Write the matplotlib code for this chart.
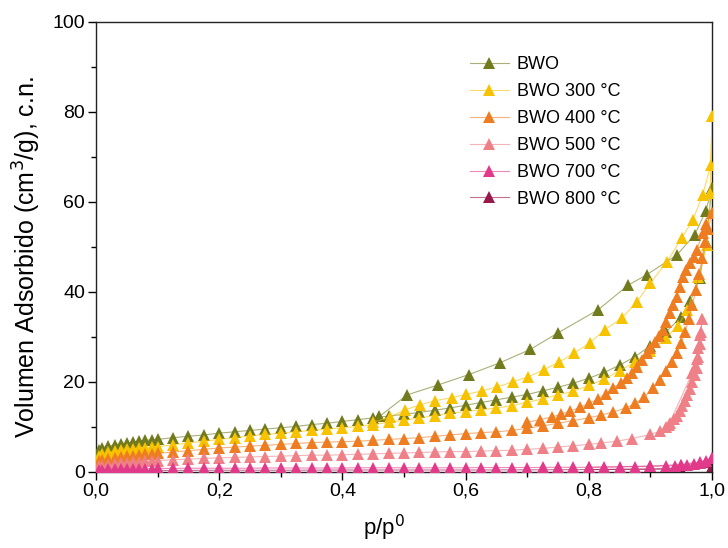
import numpy as np
import matplotlib.pyplot as plt
from matplotlib.ticker import MultipleLocator, FuncFormatter

plt.rcParams.update({'font.family': ['Liberation Sans', 'DejaVu Sans'], 'font.size': 13})


# N2 isotherms, adsorption (ads) and desorption (des) branches per sample
# BWO
bwo_p_ads = [0.005, 0.01, 0.02, 0.03, 0.04, 0.05, 0.06, 0.07, 0.08, 0.09, 0.10, 0.125, 0.15, 0.175,
             0.20, 0.225, 0.25, 0.275, 0.30, 0.325, 0.35, 0.375, 0.40, 0.425, 0.45, 0.475, 0.50,
             0.525, 0.55, 0.575, 0.60, 0.625, 0.65, 0.675, 0.70, 0.725, 0.75, 0.775, 0.80, 0.825,
             0.85, 0.875, 0.90, 0.925, 0.95, 0.965, 0.98, 0.99, 1.0]
bwo_v_ads = [4.8, 5.3, 5.7, 6.0, 6.2, 6.4, 6.6, 6.8, 7.0, 7.1, 7.2, 7.6, 7.9, 8.2,
             8.6, 8.9, 9.2, 9.5, 9.8, 10.1, 10.5, 10.8, 11.2, 11.6, 12.0, 12.4, 12.8,
             13.2, 13.7, 14.2, 14.8, 15.4, 16.0, 16.6, 17.2, 18.0, 18.8, 19.7, 20.8, 22.1,
             23.7, 25.6, 28.0, 31.0, 34.5, 38.0, 43.0, 51.0, 63.0]
bwo_p_des = [1.0, 0.99, 0.972, 0.943, 0.894, 0.864, 0.815, 0.75, 0.705, 0.655, 0.605, 0.555,
             0.505, 0.46]
bwo_v_des = [63.0, 58.0, 52.7, 48.2, 43.8, 41.5, 36.0, 30.9, 27.2, 24.2, 21.6, 19.3,
             17.1, 12.3]

# BWO 300 C
b300_p_ads = [0.005, 0.01, 0.02, 0.03, 0.04, 0.05, 0.06, 0.07, 0.08, 0.09, 0.10, 0.125, 0.15, 0.175,
              0.20, 0.225, 0.25, 0.275, 0.30, 0.325, 0.35, 0.375, 0.40, 0.425, 0.45, 0.475, 0.50,
              0.525, 0.55, 0.575, 0.60, 0.625, 0.65, 0.675, 0.70, 0.725, 0.75, 0.775, 0.80, 0.825,
              0.85, 0.875, 0.90, 0.925, 0.945, 0.96, 0.978, 0.992, 0.997, 1.0]
b300_v_ads = [3.6, 4.0, 4.3, 4.6, 4.8, 5.0, 5.1, 5.3, 5.4, 5.5, 5.6, 6.0, 6.4, 6.8,
              7.2, 7.6, 8.0, 8.3, 8.6, 8.9, 9.2, 9.5, 9.8, 10.1, 10.5, 11.0, 11.5,
              12.0, 12.5, 13.0, 13.4, 13.8, 14.2, 14.7, 15.5, 16.2, 17.1, 17.9, 19.2, 20.6,
              22.5, 24.4, 26.8, 29.8, 32.5, 36.0, 43.3, 50.4, 62.0, 79.0]
b300_p_des = [1.0, 0.998, 0.985, 0.969, 0.951, 0.927, 0.9, 0.878, 0.854, 0.826, 0.802, 0.776,
              0.752, 0.727, 0.701, 0.677, 0.651, 0.627, 0.60, 0.578, 0.55, 0.526, 0.502,
              0.477, 0.45]
b300_v_des = [79.0, 68.2, 61.6, 56.0, 52.0, 46.7, 42.0, 37.8, 34.2, 31.6, 28.7, 26.4,
              24.4, 22.7, 21.1, 20.0, 18.9, 18.0, 17.2, 16.5, 15.8, 14.9, 13.8,
              12.2, 11.0]

# BWO 400 C
b400_p_ads = [0.005, 0.01, 0.02, 0.03, 0.04, 0.05, 0.06, 0.07, 0.08, 0.09, 0.10, 0.125, 0.15, 0.175,
              0.20, 0.225, 0.25, 0.275, 0.30, 0.325, 0.35, 0.375, 0.40, 0.425, 0.45, 0.475, 0.50,
              0.525, 0.55, 0.575, 0.60, 0.625, 0.65, 0.675, 0.70, 0.725, 0.75, 0.775, 0.80, 0.82,
              0.84, 0.86, 0.875, 0.89, 0.905, 0.915, 0.925, 0.935, 0.943, 0.95, 0.956, 0.962,
              0.968, 0.974, 0.979, 0.984, 0.989, 0.994, 1.0]
b400_v_ads = [2.3, 2.6, 2.9, 3.1, 3.3, 3.5, 3.6, 3.8, 3.9, 4.0, 4.1, 4.4, 4.7, 5.0,
              5.3, 5.5, 5.7, 5.9, 6.1, 6.3, 6.5, 6.6, 6.7, 6.8, 7.0, 7.2, 7.4,
              7.6, 7.9, 8.2, 8.5, 8.7, 8.9, 9.2, 9.7, 10.2, 10.8, 11.4, 12.0, 12.6,
              13.3, 14.2, 15.2, 16.6, 18.6, 20.4, 22.4, 24.5, 26.4, 28.6, 31.0, 34.0,
              37.0, 40.5, 44.0, 47.5, 51.0, 54.0, 57.5]
b400_p_des = [1.0, 0.99, 0.985, 0.975, 0.97, 0.964, 0.958, 0.953, 0.948, 0.943, 0.937, 0.932,
              0.926, 0.92, 0.914, 0.908, 0.90, 0.894, 0.886, 0.878, 0.87, 0.862, 0.852, 0.84,
              0.828, 0.815, 0.80, 0.785, 0.77, 0.755, 0.74, 0.72, 0.70]
b400_v_des = [57.5, 55.0, 53.0, 49.3, 47.8, 46.4, 44.8, 43.3, 41.0, 38.9, 37.0, 35.3,
              33.4, 31.6, 30.2, 28.8, 27.5, 26.4, 24.8, 23.3, 22.0, 20.9, 19.8, 18.7,
              17.4, 16.2, 15.2, 14.3, 13.5, 12.8, 12.2, 11.6, 11.0]

# BWO 500 C
b500_p_ads = [0.005, 0.01, 0.02, 0.03, 0.04, 0.05, 0.06, 0.07, 0.08, 0.09, 0.10, 0.125, 0.15, 0.175,
              0.20, 0.225, 0.25, 0.275, 0.30, 0.325, 0.35, 0.375, 0.40, 0.425, 0.45, 0.475, 0.50,
              0.525, 0.55, 0.575, 0.60, 0.625, 0.65, 0.675, 0.70, 0.725, 0.75, 0.775, 0.80, 0.82,
              0.845, 0.87, 0.90, 0.915, 0.925, 0.932, 0.938, 0.943, 0.948, 0.952, 0.956, 0.96,
              0.964, 0.968, 0.972, 0.975, 0.978, 0.98, 0.982, 0.984]
b500_v_ads = [1.2, 1.4, 1.6, 1.8, 1.9, 2.0, 2.1, 2.2, 2.3, 2.4, 2.5, 2.7, 2.8, 3.0,
              3.1, 3.2, 3.3, 3.4, 3.5, 3.6, 3.7, 3.7, 3.8, 3.9, 4.0, 4.1, 4.2,
              4.3, 4.4, 4.5, 4.5, 4.6, 4.7, 4.8, 5.0, 5.2, 5.5, 5.8, 6.1, 6.4,
              6.8, 7.4, 8.3, 9.0, 10.0, 10.9, 11.7, 12.5, 13.6, 14.6, 15.8, 17.0,
              18.5, 20.0, 21.5, 23.0, 25.5, 28.5, 31.0, 34.0]
b500_p_des = [0.984, 0.981, 0.978, 0.975, 0.972, 0.968, 0.93]
b500_v_des = [34.0, 30.5, 27.5, 25.0, 23.3, 22.0, 10.5]

# BWO 700 C
b700_p_ads = [0.005, 0.01, 0.02, 0.03, 0.04, 0.05, 0.06, 0.07, 0.08, 0.09, 0.10, 0.125, 0.15, 0.175,
              0.20, 0.225, 0.25, 0.275, 0.30, 0.325, 0.35, 0.375, 0.40, 0.425, 0.45, 0.475, 0.50,
              0.525, 0.55, 0.575, 0.60, 0.625, 0.65, 0.675, 0.70, 0.725, 0.75, 0.775, 0.80, 0.825,
              0.85, 0.875, 0.90, 0.925, 0.94, 0.95, 0.96, 0.97, 0.98, 0.99, 1.0]
b700_v_ads = [0.4, 0.5, 0.55, 0.6, 0.6, 0.65, 0.65, 0.7, 0.7, 0.7, 0.75, 0.75, 0.8, 0.8,
              0.8, 0.8, 0.8, 0.85, 0.85, 0.85, 0.85, 0.85, 0.85, 0.9, 0.9, 0.9, 0.9,
              0.9, 0.9, 0.9, 0.9, 0.95, 0.95, 0.95, 0.95, 1.0, 1.0, 1.0, 1.0, 1.05,
              1.1, 1.15, 1.2, 1.3, 1.4, 1.5, 1.6, 1.8, 2.0, 2.4, 3.0]
b700_p_des = [1.0, 0.98, 0.95, 0.9, 0.8]
b700_v_des = [3.0, 2.2, 1.6, 1.3, 1.0]

# BWO 800 C
b800_p_ads = [0.005, 0.02, 0.05, 0.10, 0.20, 0.30, 0.40, 0.50, 0.60, 0.70, 0.80, 0.90, 0.95, 1.0]
b800_v_ads = [0.2, 0.25, 0.3, 0.3, 0.35, 0.35, 0.4, 0.4, 0.4, 0.45, 0.5, 0.6, 0.7, 1.0]
b800_p_des = [1.0, 0.9, 0.8]
b800_v_des = [1.0, 0.6, 0.5]

labels = ['BWO', 'BWO 300 °C', 'BWO 400 °C', 'BWO 500 °C', 'BWO 700 °C', 'BWO 800 °C']
colors = ['#727a1e', '#f7c200', '#ee7d22', '#ef8088', '#e13a8a', '#98184a']


"""
Plot one isotherm: adsorption + desorption with the same colour
"""
def plot_isotherm(ax, p_ads, v_ads, p_des, v_des, color, label, z):

	# connecting lines are lighter than the markers
	kw = dict(marker='^', ms=8, mew=0, mfc=color, color=color + '99', lw=0.8, zorder=z)
	line, = ax.plot(p_ads, v_ads, label=label, **kw)
	ax.plot(p_des, v_des, **kw)
	return line


def main():

	fig = plt.figure(figsize=(7.28, 5.48), dpi=100)
	ax = fig.add_axes([0.132, 0.139, 0.846, 0.821])

	data = [
		(bwo_p_ads, bwo_v_ads, bwo_p_des, bwo_v_des),
		(b300_p_ads, b300_v_ads, b300_p_des, b300_v_des),
		(b400_p_ads, b400_v_ads, b400_p_des, b400_v_des),
		(b500_p_ads, b500_v_ads, b500_p_des, b500_v_des),
		(b700_p_ads, b700_v_ads, b700_p_des, b700_v_des),
		(b800_p_ads, b800_v_ads, b800_p_des, b800_v_des),
	]
	zorders = [3, 3, 3, 3, 3, 2]
	for (pa, va, pd_, vd), c, lab, z in zip(data, colors, labels, zorders):
		plot_isotherm(ax, pa, va, pd_, vd, c, lab, z)

	ax.set_xlim(0, 1.0)
	ax.set_ylim(0, 100)
	ax.xaxis.set_major_locator(MultipleLocator(0.2))
	ax.xaxis.set_minor_locator(MultipleLocator(0.1))
	ax.yaxis.set_major_locator(MultipleLocator(20))
	ax.yaxis.set_minor_locator(MultipleLocator(10))
	ax.xaxis.set_major_formatter(FuncFormatter(lambda v, pos: ('%.1f' % v).replace('.', ',')))
	ax.tick_params(which='major', direction='out', length=6, width=1, labelsize=14, pad=2)
	ax.tick_params(which='minor', direction='out', length=3.5, width=1)
	for s in ax.spines.values():
		s.set_linewidth(1.0)
		s.set_color('#222222')

	ax.set_xlabel('p/p$^0$', fontsize=16)
	ax.set_ylabel('Volumen Adsorbido (cm$^3$/g), c.n.', fontsize=18)
	ax.xaxis.set_label_coords(0.4675, -0.092)
	ax.yaxis.set_label_coords(-0.086, 0.478)

	ax.legend(loc='upper left', bbox_to_anchor=(0.6065, 0.924), frameon=False,
			  fontsize=13, handlelength=2.2, labelspacing=0.55, borderpad=0,
			  borderaxespad=0, handletextpad=0.4)

	plt.savefig('out.png', dpi=100)


if __name__ == '__main__':
	main()
